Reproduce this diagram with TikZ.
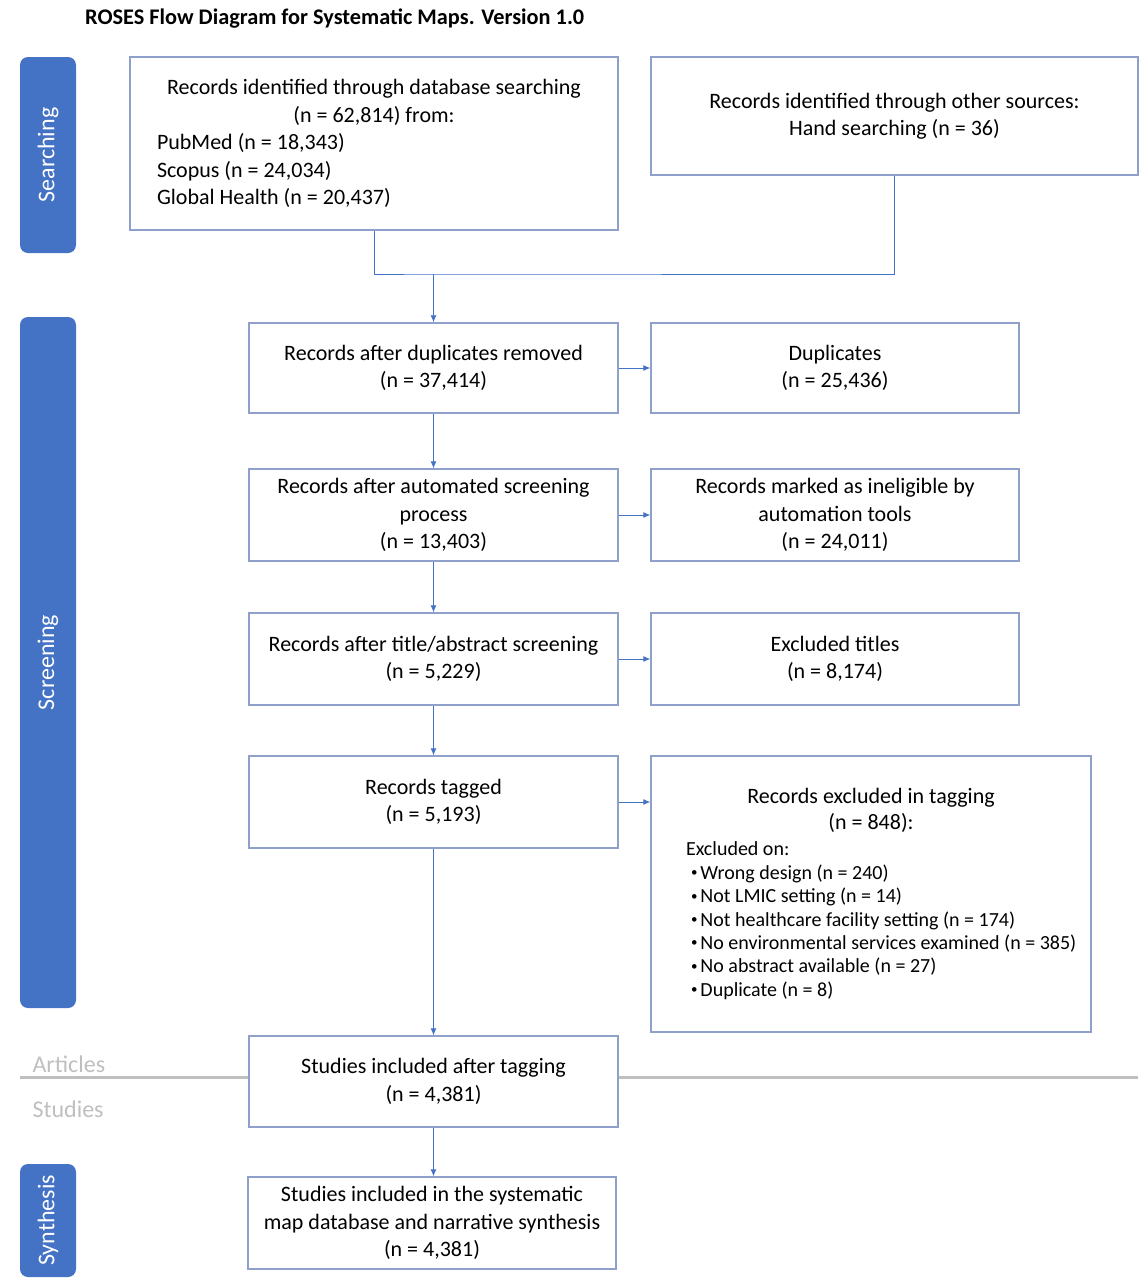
\documentclass[tikz,border=0pt]{standalone}
\usepackage{fontspec}
\setmainfont{Carlito}
\usetikzlibrary{arrows.meta}
\definecolor{roseblue}{RGB}{68,114,196}
\definecolor{boxline}{RGB}{143,160,202}
\definecolor{divgray}{RGB}{191,191,191}
\newcommand{\lline}[2]{\makebox[#1][l]{#2}}
\newcommand{\reason}[1]{\makebox[370pt][l]{\fontsize{20}{24}\selectfont\hspace*{5pt}\raisebox{2.5pt}{\fontsize{13}{13}\selectfont\textbullet}\hspace{3pt}#1}}
\tikzset{
	box/.style={draw=boxline, line width=1.3pt, fill=white, align=center, inner sep=2pt,
		minimum width=369pt, minimum height=92pt, font=\fontsize{22}{27.5}\selectfont},
	stage/.style={fill=roseblue, rounded corners=8pt, rotate=90, minimum height=56pt,
		inner sep=0pt, text=white, font=\fontsize{24}{28}\selectfont},
	link/.style={draw=roseblue, line width=1pt},
	flow/.style={link, -{Latex[length=7pt,width=6pt]}},
}

\begin{document}
\begin{tikzpicture}[x=1pt, y=-1pt]
	\useasboundingbox (0,0) rectangle (1147,1280);
	\node (title) at (85,19) [anchor=west, inner sep=0pt, font=\fontsize{22.3}{26}\selectfont\bfseries] {ROSES Flow Diagram for Systematic Maps. Version 1.0};

	\node (searching) at (48,155) [stage, minimum width=196pt] {Searching};
	\node (screening) at (48,662.5) [stage, minimum width=691pt] {Screening};
	\node (synthesis) at (48,1220.5) [stage, minimum width=113pt] {Synthesis};

	% articles / studies divider
	\draw [divgray, line width=3pt] (20,1077) -- (1138,1077);
	\node (articles) at (29,1064) [anchor=west, text=divgray, font=\fontsize{24}{28}\selectfont] {Articles};
	\node (studies) at (29,1109) [anchor=west, text=divgray, font=\fontsize{24}{28}\selectfont] {Studies};

	\node (dbsearch) at (374,143.5) [box, minimum width=488pt, minimum height=173pt] {Records identified through database searching\\(n = 62,814) from:\\\lline{434pt}{PubMed (n = 18,343)}\\\lline{434pt}{Scopus (n = 24,034)}\\\lline{434pt}{Global Health (n = 20,437)}};
	\node (others) at (894.5,116) [box, minimum width=487pt, minimum height=118pt] {Records identified through other sources:\\Hand searching (n = 36)};
	\coordinate (merge) at (433.5,274);

	\node (dedup) at (433.5,368) [box, minimum height=90pt] {Records after duplicates removed\\(n = 37,414)};
	\node (dups) at (835,368) [box, minimum width=368pt, minimum height=90pt] {Duplicates\\(n = 25,436)};
	\node (auto) at (433.5,515) [box] {Records after automated screening\\process\\(n = 13,403)};
	\node (autoex) at (835,515) [box, minimum width=368pt] {Records marked as ineligible by\\automation tools\\(n = 24,011)};
	\node (tiab) at (433.5,659) [box] {Records after title/abstract screening\\(n = 5,229)};
	\node (tiabex) at (835,659) [box, minimum width=368pt] {Excluded titles\\(n = 8,174)};
	\node (tagged) at (433.5,802) [box] {Records tagged\\(n = 5,193)};
	\node (tagex) at (871,894) [box, minimum width=440pt, minimum height=276pt, font=\fontsize{22}{26}\selectfont] {Records excluded in tagging\\(n = 848):\\
		\lline{370pt}{\fontsize{20}{24}\selectfont Excluded on:}\\[-2.6pt]
		\reason{Wrong design (n = 240)}\\[-2.6pt]
		\reason{Not LMIC setting (n = 14)}\\[-2.6pt]
		\reason{Not healthcare facility setting (n = 174)}\\[-2.6pt]
		\reason{No environmental services examined (n = 385)}\\[-2.6pt]
		\reason{No abstract available (n = 27)}\\[-2.6pt]
		\reason{Duplicate (n = 8)}};
	\node (included) at (433.5,1081.5) [box, minimum height=91pt] {Studies included after tagging\\(n = 4,381)};
	\node (final) at (432,1223) [box, minimum width=368pt] {Studies included in the systematic\\map database and narrative synthesis\\(n = 4,381)};

	\draw [link] (dbsearch.south) |- (merge) -| (others.south);
	\draw [flow] (merge) -- (dedup);
	\draw [flow] (dedup) -- (dups);
	\draw [flow] (dedup) -- (auto);
	\draw [flow] (auto) -- (autoex);
	\draw [flow] (auto) -- (tiab);
	\draw [flow] (tiab) -- (tiabex);
	\draw [flow] (tiab) -- (tagged);
	\draw [flow] (tagged.east) -- (tagged.east -| tagex.west);
	\draw [flow] (tagged) -- (included);
	\draw [flow] (included.south) -- (included.south |- final.north);
\end{tikzpicture}
\end{document}
